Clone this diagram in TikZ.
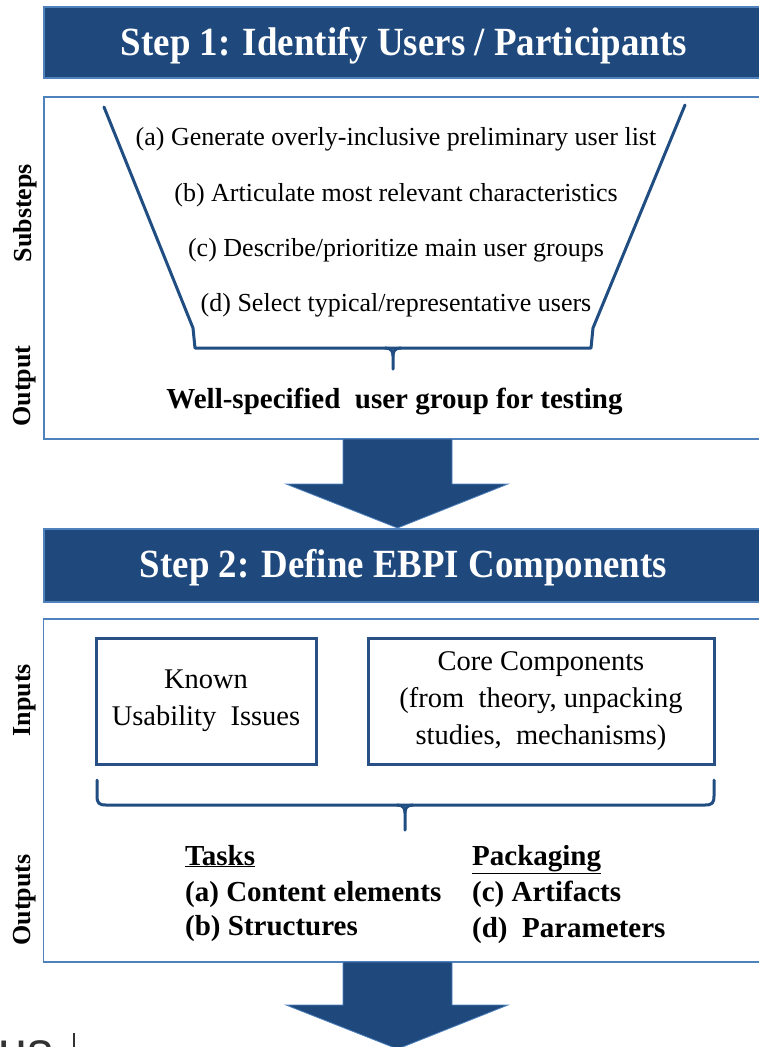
\documentclass[tikz,border=0pt]{standalone}
\usepackage{fontspec}
\usepackage{graphicx}
\setmainfont{Liberation Serif}
\newfontfamily\fragfont{Liberation Sans}
\definecolor{darkblue}{RGB}{31,73,125}
\definecolor{lineblue}{RGB}{79,129,189}
\definecolor{funnelblue}{RGB}{33,78,130}
\definecolor{boxblue}{RGB}{40,80,132}
\definecolor{fraggray}{RGB}{50,50,50}
\newcommand{\hdrfont}{\fontsize{40pt}{44pt}\selectfont\bfseries}
\newcommand{\subfont}{\fontsize{26pt}{30pt}\selectfont}
\newcommand{\inpfont}{\fontsize{28.5pt}{37pt}\selectfont}
\newcommand{\outfont}{\fontsize{29pt}{33pt}\selectfont\bfseries}
\newcommand{\sidefont}{\fontsize{26pt}{30pt}\selectfont\bfseries}
\begin{document}
\begin{tikzpicture}[x=1pt,y=-1pt,
  hdr/.style={draw=lineblue, line width=1.2pt, fill=darkblue, inner sep=0pt, minimum width=719pt},
  hdrtxt/.style={anchor=base, text=white, inner sep=0pt},
  panel/.style={draw=lineblue, line width=1.5pt, fill=white, inner sep=0pt, minimum width=719pt},
  bigarrow/.style={fill=darkblue, draw=lineblue, line width=0.8pt, line join=miter},
  funnel/.style={draw=funnelblue, line width=3pt, line join=round, line cap=round},
  inbox/.style={draw=boxblue, line width=3pt, align=center, font=\inpfont, inner sep=0pt},
  subtxt/.style={anchor=base, font=\subfont, inner sep=0pt},
  outtxt/.style={anchor=base west, font=\outfont, inner sep=0pt},
  side/.style={rotate=90, font=\sidefont, inner sep=0pt}]
\useasboundingbox (0,0) rectangle (759,1047);

% Step 1
\node[hdr, minimum height=71pt] (h1) at (403.5,42.5) {};
\node[hdrtxt] (h1t) at (404,55)
  {\resizebox{566pt}{\height}{\hdrfont Step 1: Identify Users / Participants}};
\node[panel, minimum height=342pt] (p1) at (403.5,268) {};

% funnel
\coordinate (ftl) at (104,107);
\coordinate (fbl) at (193,328);
\coordinate (fcl) at (195,348);
\coordinate (fcr) at (591,348);
\coordinate (fbr) at (593,328);
\coordinate (ftr) at (685,105);
\coordinate (ftickend) at (393,369);
\draw[funnel] (ftl) -- (fbl) -- (fcl) -- (fcr) -- (fbr) -- (ftr);
\draw[funnel] (385,348) .. controls (391,348) and (393,351) .. (393,356) -- (ftickend);
\draw[funnel] (401,348) .. controls (395,348) and (393,351) .. (393,356);

\node[subtxt] (sa) at (396,145) {(a) Generate overly-inclusive preliminary user list};
\node[subtxt] (sb) at (396,201) {(b) Articulate most relevant characteristics};
\node[subtxt] (sc) at (396,256) {(c) Describe/prioritize main user groups};
\node[subtxt] (sd) at (396,311) {(d) Select typical/representative users};
\node[anchor=base, font=\outfont, inner sep=0pt] (o1) at (394.5,408.5) {Well-specified\ \ user group for testing};

\node[side] (lsub) at (25,213) {Substeps};
\node[side] (lout) at (25,386) {Output};

% Step 2
\node[hdr, minimum height=73pt] (h2) at (403.5,565.5) {};
\node[hdrtxt] (h2t) at (403.5,577)
  {\resizebox{527pt}{\height}{\hdrfont Step 2: Define EBPI Components}};
\node[panel, minimum height=343pt] (p2) at (403,790.5) {};

% arrow 1 (from panel 1 to header 2)
\coordinate (a1) at (397.5,439);
\draw[bigarrow] (a1) ++(-54.5,0) -- ++(109,0) -- ++(0,45) -- ++(56,0) -- (397.5,528) -- (286,484) -- (343,484) -- cycle;

\node[inbox, minimum width=220pt, minimum height=126pt] (known) at (206,701)
  {Known\\Usability\ \ Issues};
\node[inbox, minimum width=346pt, minimum height=126pt] (core) at (541,701)
  {Core Components\\(from\ \ theory, unpacking\\studies,\ \ mechanisms)};

\coordinate (bl) at (97,780);
\coordinate (br) at (714,780);
\coordinate (btick) at (405,830);
\draw[funnel] (bl) -- (97,796) .. controls (97,803) and (99,805) .. (106,805) -- (705,805) .. controls (712,805) and (714,803) .. (714,796) -- (br);
\draw[funnel] (397,805) .. controls (403,805) and (405,808) .. (405,813) -- (btick);
\draw[funnel] (413,805) .. controls (407,805) and (405,808) .. (405,813);

\node[outtxt] (tasks) at (185,865) {\underline{Tasks}};
\node[outtxt] (ta) at (185,901) {(a)\ Content elements};
\node[outtxt] (tb) at (185,935) {(b)\ Structures};
\node[outtxt] (pack) at (472,865) {\underline{Packaging}};
\node[outtxt] (pc) at (472,901) {(c)\ Artifacts};
\node[outtxt] (pd) at (472,937) {(d)\ \ Parameters};

\node[side] (linp) at (25,700) {Inputs};
\node[side] (louts) at (25,900) {Outputs};

% arrow 2
\coordinate (a2) at (397.5,962);
\draw[bigarrow] (a2) ++(-54.5,0) -- ++(109,0) -- ++(0,43) -- ++(56,0) -- (397.5,1049) -- (286,1005) -- (343,1005) -- cycle;

% cropped fragment at bottom left
\node[anchor=base west, inner sep=0pt, text=fraggray, font=\fragfont\fontsize{52pt}{56pt}\selectfont] (frag) at (-2,1068) {us};
\coordinate (fragtop) at (74,1033);
\draw[fraggray, line width=1.5pt] (fragtop) -- (74,1050);
\end{tikzpicture}
\end{document}
